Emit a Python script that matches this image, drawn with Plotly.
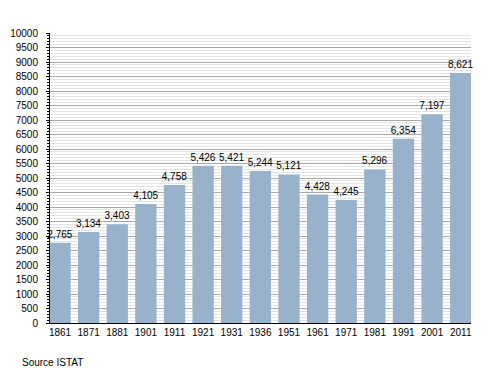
import plotly.graph_objects as go

years = ["1861", "1871", "1881", "1901", "1911", "1921", "1931", "1936",
         "1951", "1961", "1971", "1981", "1991", "2001", "2011"]
population = [2765, 3134, 3403, 4105, 4758, 5426, 5421, 5244,
              5121, 4428, 4245, 5296, 6354, 7197, 8621]
labels = [f"{v:,}" for v in population]

font_family = "Liberation Sans, Arial, sans-serif"

fig = go.Figure(go.Bar(
    x=years, y=population, text=labels, textposition="outside",
    textfont=dict(family=font_family, size=10, color="#000000"),
    marker=dict(color="#98B2CC", line=dict(width=0)),
    cliponaxis=False,
    constraintext="none",
))

fig.update_layout(
    width=500, height=373,
    margin=dict(l=42, r=37, t=25, b=58, autoexpand=False),
    paper_bgcolor="white", plot_bgcolor="white",
    bargap=0.255,
    showlegend=False,
    uniformtext=dict(minsize=10, mode="show"),
    font=dict(family=font_family, size=10, color="#000000"),
    xaxis=dict(
        type="category", range=[-0.35, 14.36],
        showline=True, linecolor="#000000", linewidth=1,
        ticks="", showgrid=False, automargin=False,
        tickfont=dict(family=font_family, size=10, color="#000000"),
    ),
    yaxis=dict(
        range=[0, 10000], dtick=500, tick0=0, tickformat="d",
        showline=True, linecolor="#000000", linewidth=1,
        ticks="outside", ticklen=3, tickcolor="#000000",
        ticklabelstandoff=6, automargin=False,
        showgrid=True, gridcolor="#A8A8A8", gridwidth=1,
        zeroline=False,
        tickfont=dict(family=font_family, size=10, color="#000000"),
        minor=dict(dtick=100, ticks="outside", ticklen=2, tickcolor="#000000",
                   showgrid=True, gridcolor="#E4E4E4", gridwidth=1),
    ),
    annotations=[dict(
        text="Source ISTAT", xref="paper", yref="paper",
        x=-30/421, y=-39/290, xanchor="left", yanchor="middle",
        showarrow=False, font=dict(family=font_family, size=10, color="#000000"),
    )],
)

fig.write_html("out.html")
